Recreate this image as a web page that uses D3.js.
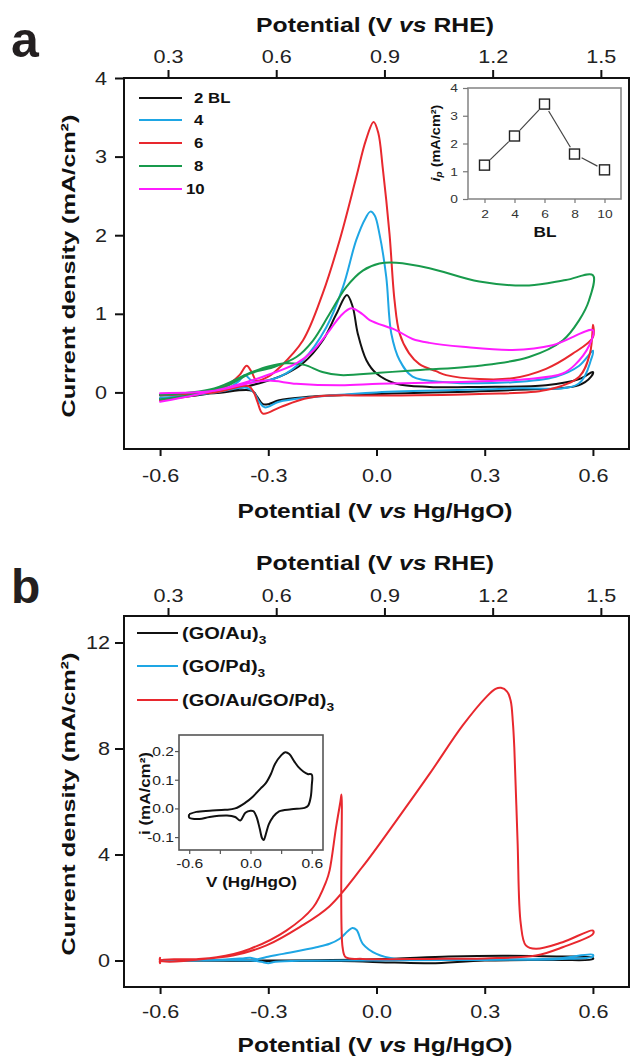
<!DOCTYPE html>
<html><head><meta charset="utf-8">
<script src="https://cdn.jsdelivr.net/npm/d3@7"></script>
<style>
html,body{margin:0;padding:0;background:#fff;}
svg{display:block;font-family:"Liberation Sans",Arial,sans-serif;}
</style></head>
<body>
<svg id="c" width="632" height="1059"></svg>
<script>
// ---------------- DATA ----------------
// Panel a: CV loops, [V vs Hg/HgO, mA/cm2], forward then reverse
const bl2 = [[-0.6,-0.08],[-0.5,-0.04],[-0.407,0.03],[-0.315,0.13],[-0.25,0.24],[-0.204,0.37],[-0.149,0.66],[-0.111,1.0],[-0.082,1.24],[-0.066,1.09],[-0.052,0.75],[-0.028,0.41],[0.0,0.24],[0.055,0.11],[0.147,0.07],[0.285,0.07],[0.47,0.09],[0.562,0.17],[0.6,0.26],
  [0.595,0.2],[0.56,0.09],[0.377,0.03],[0.0,-0.02],[-0.2,-0.06],[-0.27,-0.1],[-0.3,-0.15],[-0.315,-0.15],[-0.33,-0.06],[-0.345,0.02],[-0.45,-0.01],[-0.6,-0.04]];
const bl4 = [[-0.6,-0.07],[-0.5,-0.03],[-0.42,0.03],[-0.38,0.15],[-0.365,0.22],[-0.345,0.15],[-0.31,0.15],[-0.268,0.2],[-0.204,0.41],[-0.139,0.83],[-0.093,1.34],[-0.056,1.94],[-0.03,2.22],[-0.017,2.3],[-0.005,2.25],[0.008,2.02],[0.027,1.47],[0.041,0.75],[0.064,0.41],[0.1,0.2],[0.193,0.13],[0.377,0.13],[0.497,0.2],[0.562,0.34],[0.6,0.53],
  [0.595,0.42],[0.56,0.11],[0.377,0.05],[0.0,0.0],[-0.2,-0.07],[-0.27,-0.12],[-0.31,-0.19],[-0.325,-0.12],[-0.34,0.0],[-0.36,0.06],[-0.45,0.0],[-0.6,-0.03]];
const bl6 = [[-0.6,-0.1],[-0.5,-0.03],[-0.416,0.09],[-0.38,0.22],[-0.36,0.34],[-0.345,0.25],[-0.333,0.15],[-0.3,0.2],[-0.268,0.32],[-0.204,0.66],[-0.149,1.26],[-0.102,1.94],[-0.056,2.74],[-0.03,3.2],[-0.008,3.44],[0.005,3.3],[0.017,2.87],[0.036,2.02],[0.05,1.17],[0.064,0.75],[0.09,0.5],[0.119,0.36],[0.165,0.27],[0.193,0.22],[0.285,0.17],[0.377,0.18],[0.47,0.3],[0.543,0.49],[0.6,0.7],[0.6,0.86],
  [0.592,0.5],[0.562,0.2],[0.47,0.03],[0.285,-0.02],[0.0,-0.04],[-0.13,-0.04],[-0.2,-0.08],[-0.268,-0.19],[-0.315,-0.27],[-0.33,-0.12],[-0.34,0.0],[-0.355,0.08],[-0.45,0.0],[-0.6,-0.03]];
const bl8 = [[-0.6,-0.09],[-0.5,-0.02],[-0.42,0.07],[-0.351,0.24],[-0.287,0.32],[-0.222,0.45],[-0.176,0.66],[-0.13,1.0],[-0.084,1.34],[-0.038,1.55],[0.008,1.64],[0.055,1.65],[0.147,1.58],[0.285,1.41],[0.423,1.36],[0.525,1.43],[0.6,1.49],
  [0.589,1.17],[0.562,0.92],[0.516,0.66],[0.423,0.45],[0.285,0.34],[0.1,0.28],[0.008,0.25],[-0.1,0.22],[-0.15,0.26],[-0.2,0.35],[-0.25,0.37],[-0.3,0.33],[-0.35,0.25],[-0.45,0.05],[-0.6,-0.03]];
const bl10 = [[-0.6,-0.12],[-0.5,-0.03],[-0.407,0.07],[-0.315,0.2],[-0.222,0.37],[-0.176,0.53],[-0.13,0.79],[-0.1,0.97],[-0.07,1.07],[-0.04,1.0],[-0.019,0.92],[0.055,0.79],[0.1,0.68],[0.147,0.63],[0.239,0.58],[0.377,0.54],[0.488,0.6],[0.6,0.79],
  [0.59,0.6],[0.55,0.35],[0.516,0.24],[0.423,0.17],[0.193,0.13],[0.008,0.11],[-0.1,0.09],[-0.222,0.11],[-0.3,0.15],[-0.35,0.12],[-0.45,0.02],[-0.6,-0.01]];
const seriesA = ["2 BL","4","6","8","10"];
const colorsA = ["#111111","#1ea6e4","#e8282e","#189a4c","#ff1cff"];

// Panel a inset: peak current vs BL
const insetBL = [2,4,6,8,10];
const insetIp = [1.22,2.27,3.42,1.62,1.05];

// Panel b loops
const goAu = [[-0.6,0.0],[-0.3,0.0],[0.0,0.05],[0.2,0.15],[0.35,0.18],[0.5,0.15],[0.6,0.1],
  [0.6,0.05],[0.5,0.02],[0.3,0.0],[0.15,-0.1],[0.05,-0.08],[-0.1,-0.02],[-0.3,-0.02],[-0.6,0.0]];
const goPd = [[-0.6,0.0],[-0.45,0.02],[-0.37,0.08],[-0.35,0.1],[-0.33,0.05],[-0.305,0.13],[-0.259,0.25],[-0.167,0.5],[-0.13,0.63],[-0.102,0.82],[-0.08,1.1],[-0.067,1.23],[-0.055,1.15],[-0.038,0.63],[0.0,0.25],[0.055,0.06],[0.3,0.05],[0.5,0.08],[0.6,0.22],
  [0.6,0.15],[0.5,0.05],[0.2,0.02],[0.0,0.0],[-0.2,-0.01],[-0.28,-0.05],[-0.3,-0.1],[-0.32,-0.05],[-0.35,0.0],[-0.6,-0.02]];
const goAuPd = [[-0.6,-0.1],[-0.6,0.0],[-0.5,0.05],[-0.398,0.19],[-0.305,0.57],[-0.213,1.26],[-0.13,2.05],[-0.038,3.55],[0.055,5.28],[0.147,7.04],[0.239,8.87],[0.304,9.94],[0.33,10.25],[0.345,10.29],[0.362,10.15],[0.372,9.8],[0.378,9.0],[0.382,8.05],[0.391,4.53],[0.4,1.38],[0.414,0.57],[0.442,0.44],[0.516,0.69],[0.6,1.13],
  [0.6,1.0],[0.516,0.5],[0.442,0.19],[0.3,0.08],[0.147,0.06],[-0.038,0.06],[-0.085,0.12],[-0.094,0.5],[-0.097,6.26],[-0.1,6.0],[-0.112,5.03],[-0.13,3.4],[-0.139,3.0],[-0.176,2.0],[-0.25,1.13],[-0.351,0.44],[-0.443,0.12],[-0.6,0.0],[-0.6,0.1]];
const seriesB = ["(GO/Au)","(GO/Pd)","(GO/Au/GO/Pd)"];
const colorsB = ["#111111","#1ea6e4","#e8282e"];

// Panel b inset: CV of (GO/Au)3 in i (mA/cm2)
const insetCV = [[-0.6,-0.02],[-0.53,-0.012],[-0.4,-0.008],[-0.25,-0.005],[-0.15,0.0],[-0.05,0.02],[0.02,0.04],[0.1,0.07],[0.15,0.088],[0.2,0.12],[0.24,0.155],[0.3,0.185],[0.34,0.196],[0.38,0.19],[0.43,0.163],[0.47,0.144],[0.52,0.128],[0.56,0.12],[0.6,0.118],
  [0.6,0.08],[0.59,0.04],[0.565,0.01],[0.53,0.002],[0.4,-0.003],[0.28,-0.01],[0.22,-0.03],[0.18,-0.055],[0.15,-0.09],[0.13,-0.11],[0.115,-0.105],[0.09,-0.07],[0.06,-0.03],[0.03,-0.01],[0.0,-0.008],[-0.05,-0.015],[-0.1,-0.042],[-0.15,-0.03],[-0.23,-0.025],[-0.4,-0.03],[-0.5,-0.037],[-0.6,-0.032],[-0.6,-0.02]];

// Ticks
const xTicks = [-0.6,-0.3,0.0,0.3,0.6];
const rheTicks = [0.3,0.6,0.9,1.2,1.5];
const yTicksA = [0,1,2,3,4];
const yTicksB = [0,4,8,12];
const insetATicksX = [2,4,6,8,10];
const insetATicksY = [0,1,2,3,4];
const insetBTicksX = [-0.6,-0.3,0.0,0.3,0.6];
const insetBLabelsX = ["-0.6","","0.0","","0.6"];
const insetBTicksY = [-0.1,0.0,0.1,0.2];

// ---------------- DRAW ----------------
const svg = d3.select("#c");
const SX = 1.2; // horizontal text stretch seen in the figure
const fmt1 = d => d.toFixed(1);

function styleAxis(g, fs, col, sw){
  g.select(".domain").remove();
  g.selectAll(".tick line").attr("stroke", col).attr("stroke-width", sw);
  g.selectAll(".tick text").attr("font-size", fs).attr("fill", "#222").attr("font-family","Liberation Sans, Arial, sans-serif");
}
function stretchTicks(g, k){
  g.selectAll(".tick text").attr("transform", `scale(${k},1)`);
}
function fitText(sel, target){
  const w = sel.node().getComputedTextLength();
  return target / w;
}
function title(parts, cx, y, fs, target, rotate){
  const t = svg.append("text").attr("font-size", fs).attr("font-weight","bold").attr("text-anchor","middle").attr("fill","#111");
  parts.forEach(p=>{
    const ts = t.append("tspan").text(p.t);
    if(p.i) ts.attr("font-style","italic");
    if(p.sub) ts.attr("font-size", fs*0.68).attr("baseline-shift","-25%");
  });
  const k = fitText(t, target);
  t.attr("transform", rotate ? `translate(${cx},${y}) rotate(-90) scale(${k},1)` : `translate(${cx},${y}) scale(${k},1)`);
  return t;
}

function panel(opt){
  const x = d3.scaleLinear().domain([-0.7,0.7]).range([124,629]);
  const xt = d3.scaleLinear().domain([0.178,1.578]).range([124,629]);
  const y = d3.scaleLinear().domain(opt.ydom).range([opt.bottom, opt.top]);
  const g = svg.append("g");
  // curves
  const line = d3.line().x(d=>x(d[0])).y(d=>y(d[1])).curve(d3.curveCatmullRom.alpha(0.5));
  opt.data.forEach((d,i)=>{
    g.append("path").attr("d", line(d)).attr("fill","none").attr("stroke", opt.colors[i])
      .attr("stroke-width", 2).attr("stroke-linejoin","round").attr("stroke-linecap","round");
  });
  // frame
  g.append("rect").attr("x",124).attr("y",opt.top).attr("width",629-124).attr("height",opt.bottom-opt.top)
    .attr("fill","none").attr("stroke","#111").attr("stroke-width",2);
  // axes
  const gb = g.append("g").attr("transform",`translate(0,${opt.bottom})`)
    .call(d3.axisBottom(x).tickValues(xTicks).tickFormat(fmt1).tickSize(7));
  styleAxis(gb, 18, "#111", 2);
  gb.selectAll(".tick text").attr("y", opt.bLab).attr("dy", null);
  stretchTicks(gb, SX);
  const gt = g.append("g").attr("transform",`translate(0,${opt.top})`)
    .call(d3.axisTop(xt).tickValues(rheTicks).tickFormat(fmt1).tickSize(8));
  styleAxis(gt, 18, "#111", 2);
  gt.selectAll(".tick text").attr("y", -opt.tLab).attr("dy", null);
  stretchTicks(gt, SX);
  const gl = g.append("g").attr("transform",`translate(124,0)`)
    .call(d3.axisLeft(y).tickValues(opt.yticks).tickFormat(d3.format("d")).tickSize(9));
  styleAxis(gl, 18, "#111", 2);
  gl.selectAll(".tick text").attr("x", -opt.lGap/SX).attr("dy","0.34em");
  stretchTicks(gl, SX);
  return {x, y, g};
}

// ---- Panel a ----
const A = panel({top:78, bottom:449, ydom:[-0.72,4], yticks:yTicksA, data:[bl2,bl4,bl6,bl8,bl10], colors:colorsA, bLab:33, tLab:15, lGap:17});
svg.append("text").attr("x",11).attr("y",57).attr("font-size",50).attr("font-weight","bold").attr("fill","#231f20").text("a");
title([{t:"Potential (V "},{t:"vs",i:true},{t:" RHE)"}], 375, 32, 21, 238);
title([{t:"Potential (V "},{t:"vs",i:true},{t:" Hg/HgO)"}], 375, 518, 21, 275);
title([{t:"Current density (mA/cm²)"}], 75, 266, 19, 303, true);
// legend a
const legAy = [98,120,143,166,189];
seriesA.forEach((s,i)=>{
  svg.append("line").attr("x1",139).attr("x2",182).attr("y1",legAy[i]).attr("y2",legAy[i]).attr("stroke",colorsA[i]).attr("stroke-width",2);
  svg.append("text").attr("transform",`translate(${i===4?186:194},${legAy[i]+5}) scale(${SX},1)`)
    .attr("font-size",14).attr("font-weight","bold").attr("fill","#111").text(s);
});
// inset a
{
  const xi = d3.scaleLinear().domain([0.9,11.1]).range([468,621]);
  const yi = d3.scaleLinear().domain([0,4]).range([199,88]);
  const gi = svg.append("g");
  gi.append("rect").attr("x",468).attr("y",88).attr("width",621-468).attr("height",199-88).attr("fill","#fff").attr("stroke","#8a8a8a").attr("stroke-width",1.6);
  const ax = gi.append("g").attr("transform","translate(0,199)").call(d3.axisBottom(xi).tickValues(insetATicksX).tickFormat(d3.format("d")).tickSize(4));
  styleAxis(ax, 11.5, "#777", 1.2);
  ax.selectAll(".tick text").attr("y",19).attr("dy",null).attr("fill","#333");
  stretchTicks(ax, SX);
  const ay = gi.append("g").attr("transform","translate(468,0)").call(d3.axisLeft(yi).tickValues(insetATicksY).tickFormat(d3.format("d")).tickSize(5));
  styleAxis(ay, 11.5, "#777", 1.2);
  ay.selectAll(".tick text").attr("x",-10/SX).attr("dy","0.34em").attr("fill","#333");
  stretchTicks(ay, SX);
  // connecting segments with gaps at markers
  for(let i=0;i<insetBL.length-1;i++){
    const x1=xi(insetBL[i]), y1=yi(insetIp[i]), x2=xi(insetBL[i+1]), y2=yi(insetIp[i+1]);
    const L=Math.hypot(x2-x1,y2-y1), ux=(x2-x1)/L, uy=(y2-y1)/L, gap=8;
    gi.append("line").attr("x1",x1+ux*gap).attr("y1",y1+uy*gap).attr("x2",x2-ux*gap).attr("y2",y2-uy*gap)
      .attr("stroke","#444").attr("stroke-width",1.2);
  }
  insetBL.forEach((b,i)=>{
    gi.append("rect").attr("x",xi(b)-5).attr("y",yi(insetIp[i])-5).attr("width",10).attr("height",10)
      .attr("fill","#fff").attr("stroke","#222").attr("stroke-width",1.4);
  });
  title([{t:"BL"}], 545, 237, 14, 23);
  title([{t:"i",i:true},{t:"p",i:true,sub:true},{t:" (mA/cm²)"}], 440, 143, 12, 77, true);
}

// ---- Panel b ----
const B = panel({top:616, bottom:987, ydom:[-1,13], yticks:yTicksB, data:[goAu,goPd,goAuPd], colors:colorsB, bLab:31.5, tLab:14, lGap:14});
svg.append("text").attr("x",11).attr("y",603).attr("font-size",48).attr("font-weight","bold").attr("fill","#231f20").text("b");
title([{t:"Potential (V "},{t:"vs",i:true},{t:" RHE)"}], 375, 570, 21, 238);
title([{t:"Potential (V "},{t:"vs",i:true},{t:" Hg/HgO)"}], 375, 1052, 21, 275);
title([{t:"Current density (mA/cm²)"}], 75, 804, 19, 303, true);
// legend b
const legBy = [633,666,700];
seriesB.forEach((s,i)=>{
  svg.append("line").attr("x1",137).attr("x2",178).attr("y1",legBy[i]).attr("y2",legBy[i]).attr("stroke",colorsB[i]).attr("stroke-width",2);
  const t = svg.append("text").attr("transform",`translate(182,${legBy[i]+6}) scale(1.25,1)`)
    .attr("font-size",16).attr("font-weight","bold").attr("fill","#111");
  t.append("tspan").text(s);
  t.append("tspan").text("3").attr("font-size",11).attr("dy",5);
});
// inset b
{
  const xi = d3.scaleLinear().domain([-0.7,0.71]).range([179,323]);
  const yi = d3.scaleLinear().domain([-0.145,0.256]).range([850,735]);
  const gi = svg.append("g");
  gi.append("rect").attr("x",179).attr("y",735).attr("width",323-179).attr("height",850-735).attr("fill","#fff").attr("stroke","#555").attr("stroke-width",1.6);
  const line = d3.line().x(d=>xi(d[0])).y(d=>yi(d[1])).curve(d3.curveCatmullRom.alpha(0.5));
  gi.append("path").attr("d",line(insetCV)).attr("fill","none").attr("stroke","#111").attr("stroke-width",2).attr("stroke-linejoin","round");
  const ax = gi.append("g").attr("transform","translate(0,850)").call(d3.axisBottom(xi).tickValues(insetBTicksX).tickFormat((d,i)=>insetBLabelsX[i]).tickSize(4));
  styleAxis(ax, 13, "#555", 1.2);
  ax.selectAll(".tick text").attr("y",18).attr("dy",null);
  stretchTicks(ax, SX);
  const ay = gi.append("g").attr("transform","translate(179,0)").call(d3.axisLeft(yi).tickValues(insetBTicksY).tickFormat(fmt1).tickSize(4));
  styleAxis(ay, 13, "#555", 1.2);
  ay.selectAll(".tick text").attr("x",-5/SX).attr("dy","0.34em");
  stretchTicks(ay, SX);
  title([{t:"V (Hg/HgO)"}], 251.5, 887, 14, 91);
  title([{t:"i (mA/cm²)"}], 150, 793.5, 14, 83, true);
}
</script>
</body></html>
